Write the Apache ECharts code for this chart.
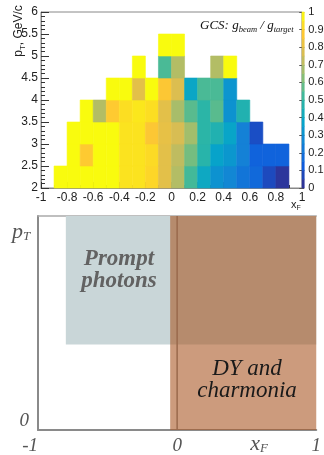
<!DOCTYPE html>
<html><head><meta charset="utf-8">
<script src="https://cdn.jsdelivr.net/npm/echarts@6/dist/echarts.min.js"></script>
<style>html,body{margin:0;padding:0;background:#fff}#c{width:324px;height:455px}</style>
</head><body><div id="c"></div>
<script>
// ---------- Top panel: GCS ratio map (x_F, p_T) ----------
const binWidthXF = 0.1;
const binHeightPT = 0.5;
// each row: [x_F bin low edge, ratio value]
const pt2_0 = [[-0.9,1.0],[-0.8,1.0],[-0.7,1.0],[-0.6,1.0],[-0.5,1.0],[-0.4,0.94],[-0.3,0.94],[-0.2,0.91],[-0.1,0.80],[0.0,0.70],[0.1,0.53],[0.2,0.40],[0.3,0.31],[0.4,0.27],[0.5,0.21],[0.6,0.17],[0.7,0.08],[0.8,0.03]];
const pt2_5 = [[-0.8,1.0],[-0.7,0.88],[-0.6,1.0],[-0.5,1.0],[-0.4,0.94],[-0.3,0.94],[-0.2,0.92],[-0.1,0.80],[0.0,0.72],[0.1,0.60],[0.2,0.48],[0.3,0.37],[0.4,0.33],[0.5,0.25],[0.6,0.15],[0.7,0.15],[0.8,0.15]];
const pt3_0 = [[-0.8,1.0],[-0.7,1.0],[-0.6,1.0],[-0.5,1.0],[-0.4,0.94],[-0.3,0.94],[-0.2,0.87],[-0.1,0.81],[0.0,0.77],[0.1,0.67],[0.2,0.49],[0.3,0.46],[0.4,0.38],[0.5,0.25],[0.6,0.09]];
const pt3_5 = [[-0.7,1.0],[-0.6,0.70],[-0.5,0.88],[-0.4,0.93],[-0.3,0.95],[-0.2,0.93],[-0.1,0.80],[0.0,0.68],[0.1,0.56],[0.2,0.49],[0.3,0.56],[0.4,0.31],[0.5,0.46]];
const pt4_0 = [[-0.5,1.0],[-0.4,1.0],[-0.3,0.80],[-0.2,1.0],[-0.1,0.87],[0.0,0.78],[0.1,0.39],[0.2,0.54],[0.3,0.54],[0.4,0.32]];
const pt4_5 = [[-0.3,1.0],[-0.1,0.54],[0.0,0.70],[0.3,0.70],[0.4,1.0]];
const pt5_0 = [[-0.1,1.0],[0.0,1.0]];
const ptRowLows = [2.0, 2.5, 3.0, 3.5, 4.0, 4.5, 5.0];
const ptRows = [pt2_0, pt2_5, pt3_0, pt3_5, pt4_0, pt4_5, pt5_0];
// colour scale band edges (20 contours)
const colorbarLevels = [0,0.05,0.1,0.15,0.2,0.25,0.3,0.35,0.4,0.45,0.5,0.55,0.6,0.65,0.7,0.75,0.8,0.85,0.9,0.95];
const colorbarStep = 0.05;

// ---------- Bottom panel: kinematic regions ----------
// [x_F min, x_F max, p_T min, p_T max] (p_T in relative units)
const regionPromptPhotons = [-0.8, 1.0, 0.4, 1.0];
const regionDY = [-0.05, 1.0, 0.0, 1.0];
const dividerLine = [[0, 0], [0, 1]];

// ---------- styles ----------
const kBird = ['#352a87','#0f5cdd','#1481d6','#06a4ca','#2eb7a4','#87bf77','#d1bb59','#fec832','#f9fb0e'];
const sans = 'Liberation Sans';
const serif = 'Liberation Serif';

const cells = [];
ptRows.forEach((row, i) => row.forEach(c => cells.push([c[0], ptRowLows[i], c[1]])));
const cbData = colorbarLevels.map(l => [l, l + colorbarStep / 2]);

const chart = echarts.init(document.getElementById('c'));
const option = {
  animation: false,
  backgroundColor: '#fff',
  grid: [
    {left: 41, top: 12, width: 261, height: 176, show: true, borderColor: '#888', borderWidth: 1, backgroundColor: 'transparent'},
    {left: 302, top: 12, width: 9, height: 176},
    {left: 38, top: 216, width: 282, height: 215}
  ],
  xAxis: [
    {gridIndex: 0, type: 'value', min: -1, max: 1, interval: 0.2,
     axisLine: {onZero: false, lineStyle: {color: '#888'}},
     axisTick: {inside: true, length: 6, lineStyle: {color: '#333'}},
     minorTick: {show: true, splitNumber: 2, length: 3, lineStyle: {color: '#333'}},
     splitLine: {show: false},
     axisLabel: {fontFamily: sans, fontSize: 12, color: '#222', margin: 4}},
    {gridIndex: 1, type: 'value', min: 0, max: 1, show: false},
    {gridIndex: 2, type: 'value', min: -1, max: 1, interval: 1,
     axisLine: {onZero: false, lineStyle: {color: '#8a8a8a', width: 2}},
     axisTick: {show: false}, splitLine: {show: false},
     axisLabel: {fontFamily: serif, fontStyle: 'italic', fontSize: 19, color: '#555', margin: 6, alignMinLabel: 'right'}},
    {gridIndex: 2, type: 'value', min: -1, max: 1, position: 'top',
     axisLine: {onZero: false, lineStyle: {color: '#aaa', width: 1.5}},
     axisTick: {show: false}, axisLabel: {show: false}, splitLine: {show: false}}
  ],
  yAxis: [
    {gridIndex: 0, type: 'value', min: 2, max: 6, interval: 0.5,
     axisLine: {show: true, onZero: false, lineStyle: {color: '#888'}},
     axisTick: {inside: true, length: 8, lineStyle: {color: '#333'}},
     minorTick: {show: true, splitNumber: 5, length: 4, lineStyle: {color: '#333'}},
     splitLine: {show: false},
     axisLabel: {fontFamily: sans, fontSize: 12, color: '#222', margin: 3}},
    {gridIndex: 1, type: 'value', min: 0, max: 1, interval: 0.1, position: 'right',
     axisLine: {show: false, onZero: false},
     axisTick: {show: true, inside: true, length: 5, lineStyle: {color: '#555'}},
     splitLine: {show: false},
     axisLabel: {fontFamily: sans, fontSize: 11, color: '#222', margin: 4}},
    {gridIndex: 2, type: 'value', min: 0, max: 1, interval: 1,
     axisLine: {show: true, onZero: false, lineStyle: {color: '#8a8a8a', width: 2}},
     axisTick: {show: false}, splitLine: {show: false},
     axisLabel: {fontFamily: serif, fontStyle: 'italic', fontSize: 19, color: '#555', margin: 9,
       verticalAlign: 'bottom', formatter: v => (v === 0 ? '0' : '')}}
  ],
  visualMap: {
    type: 'continuous', show: false, min: 0, max: 1, dimension: 2, seriesIndex: [0],
    inRange: {color: kBird}
  },
  series: [
    {type: 'custom', xAxisIndex: 0, yAxisIndex: 0, data: cells, encode: {x: 0, y: 1},
     renderItem(params, api) {
       const x0 = api.value(0), y0 = api.value(1);
       const a = api.coord([x0, y0 + binHeightPT]);
       const b = api.coord([x0 + binWidthXF, y0]);
       const col = api.visual('color');
       return {type: 'rect', shape: {x: a[0], y: a[1], width: b[0] - a[0], height: b[1] - a[1]},
               style: {fill: col, stroke: col, lineWidth: 0.6}};
     }},
    {type: 'custom', xAxisIndex: 1, yAxisIndex: 1, data: cbData, encode: {y: 0},
     renderItem(params, api) {
       const l = api.value(0), m = api.value(1);
       const a = api.coord([0, l + colorbarStep]);
       const b = api.coord([1, l]);
       const scale = echarts.color.lerp(m, kBird);
       return {type: 'rect', shape: {x: a[0], y: a[1], width: b[0] - a[0], height: b[1] - a[1]},
               style: {fill: scale, stroke: scale, lineWidth: 0.6}};
     }},
    {type: 'custom', xAxisIndex: 2, yAxisIndex: 2, data: [regionPromptPhotons, regionDY],
     renderItem(params, api) {
       const a = api.coord([api.value(0), api.value(3)]);
       const b = api.coord([api.value(1), api.value(2)]);
       const fills = ['#c9d6d8', 'rgba(170,88,38,0.6)'];
       return {type: 'rect', shape: {x: a[0], y: a[1], width: b[0] - a[0], height: b[1] - a[1]},
               style: {fill: fills[params.dataIndex]}};
     }},
    {type: 'line', xAxisIndex: 2, yAxisIndex: 2, data: dividerLine, symbol: 'none',
     lineStyle: {color: '#9a6a4c', width: 1.5}}
  ],
  graphic: [
    {type: 'text', z: 100, x: 19, y: 31, rotation: Math.PI / 2,
     style: {text: '{a|p}{s|T}{a|, GeV/c}', align: 'center', verticalAlign: 'middle',
       rich: {a: {fontFamily: sans, fontSize: 12, fill: '#222', lineHeight: 14},
              s: {fontFamily: sans, fontSize: 8, fill: '#222', padding: [7, 0, 0, 0]}}}},
    {type: 'text', z: 100, x: 296, y: 205,
     style: {text: '{a|x}{s|F}', align: 'center', verticalAlign: 'middle',
       rich: {a: {fontFamily: sans, fontSize: 11, fill: '#222', lineHeight: 12},
              s: {fontFamily: sans, fontSize: 7, fill: '#222', padding: [6, 0, 0, 0]}}}},
    {type: 'text', z: 100, x: 200, y: 26,
     style: {text: '{a|GCS: g}{s|beam}{a| / g}{s|target}', align: 'left', verticalAlign: 'middle',
       rich: {a: {fontFamily: serif, fontStyle: 'italic', fontSize: 13, fill: '#111', lineHeight: 14},
              s: {fontFamily: serif, fontStyle: 'italic', fontSize: 8.5, fill: '#111', padding: [8, 0, 0, 0]}}}},
    {type: 'text', z: 100, x: 21, y: 232,
     style: {text: '{a|p}{s|T}', align: 'center', verticalAlign: 'middle',
       rich: {a: {fontFamily: serif, fontStyle: 'italic', fontSize: 22, fill: '#555', lineHeight: 22},
              s: {fontFamily: serif, fontStyle: 'italic', fontSize: 13, fill: '#555', padding: [10, 0, 0, 0]}}}},
    {type: 'text', z: 100, x: 259, y: 444,
     style: {text: '{a|x}{s|F}', align: 'center', verticalAlign: 'middle',
       rich: {a: {fontFamily: serif, fontStyle: 'italic', fontSize: 22, fill: '#555', lineHeight: 22},
              s: {fontFamily: serif, fontStyle: 'italic', fontSize: 13, fill: '#555', padding: [10, 0, 0, 0]}}}},
    {type: 'text', z: 100, x: 119, y: 270,
     style: {text: 'Prompt\nphotons', align: 'center', verticalAlign: 'middle',
       font: 'italic bold 23px "Liberation Serif"', lineHeight: 22, fill: '#626262'}},
    {type: 'text', z: 100, x: 247, y: 380,
     style: {text: 'DY and\ncharmonia', align: 'center', verticalAlign: 'middle',
       font: 'italic 23px "Liberation Serif"', lineHeight: 22, fill: '#1a1a1a'}}
  ]
};
chart.setOption(option);
</script>
</body></html>
